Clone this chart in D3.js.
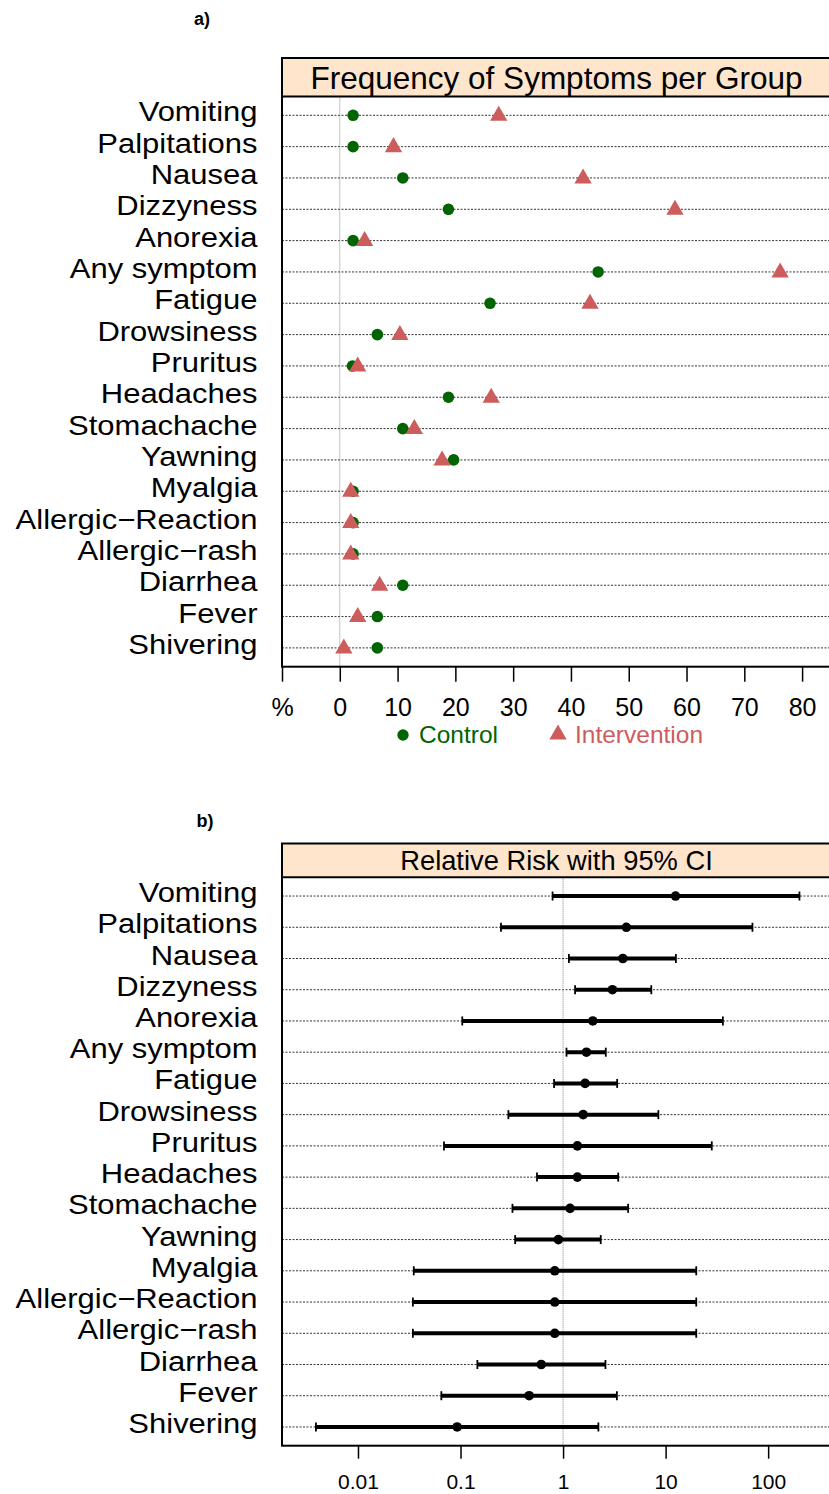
<!DOCTYPE html>
<html>
<head>
<meta charset="utf-8">
<script src="https://cdn.jsdelivr.net/npm/d3@7"></script>
<style>
  body { margin: 0; background: #fff; }
  text { font-family: "Liberation Sans", Arial, Helvetica, sans-serif; }
</style>
</head>
<body>
<svg width="829" height="1494"></svg>
<script>
// symptoms, top to bottom
const symptoms = ['Vomiting', 'Palpitations', 'Nausea', 'Dizzyness', 'Anorexia', 'Any symptom',
  'Fatigue', 'Drowsiness', 'Pruritus', 'Headaches', 'Stomachache', 'Yawning', 'Myalgia',
  'Allergic\u2212Reaction', 'Allergic\u2212rash', 'Diarrhea', 'Fever', 'Shivering'];

// a) frequency in % per group
const controlPct = [2.3, 2.3, 10.9, 18.8, 2.3, 44.7, 26.0, 6.5, 2.2, 18.8, 10.9, 19.7, 2.3, 2.3, 2.3, 10.9, 6.5, 6.5];
const interventionPct = [27.5, 9.3, 42.1, 58.0, 4.3, 76.2, 43.3, 10.4, 3.1, 26.2, 12.9, 17.7, 1.9, 1.9, 1.9, 6.9, 3.1, 0.7];
const pctTicks = [-10, 0, 10, 20, 30, 40, 50, 60, 70, 80];
const pctTickLabels = ['%', '0', '10', '20', '30', '40', '50', '60', '70', '80'];

// b) relative risk with 95% CI
const rr = [12.5, 4.14, 3.83, 3.03, 1.95, 1.69, 1.64, 1.57, 1.38, 1.38, 1.17, 0.90, 0.83, 0.83, 0.83, 0.613, 0.467, 0.0927];
const rrLower = [0.79, 0.248, 1.14, 1.31, 0.104, 1.08, 0.817, 0.293, 0.069, 0.557, 0.321, 0.341, 0.035, 0.0343, 0.0343, 0.146, 0.065, 0.00389];
const rrUpper = [202, 70.3, 12.6, 7.25, 36.2, 2.61, 3.37, 8.5, 28.2, 3.45, 4.31, 2.33, 19.9, 19.9, 19.9, 2.59, 3.35, 2.21];
const rrTicks = [0.01, 0.1, 1, 10, 100];
const rrTickLabels = ['0.01', '0.1', '1', '10', '100'];

const svg = d3.select('svg');
const left = 282, right = 831;
const labelX = 257.5;
const green = '#006400', red = '#cd5c5c';

// strip + rows + labels, returns the point scale
function panel(stripTop, panelTop, panelBottom, title, titleSize, titleBase) {
  svg.append('rect')
    .attr('x', left).attr('y', stripTop)
    .attr('width', right - left).attr('height', panelTop - stripTop)
    .attr('fill', '#ffe5cc');
  svg.append('text')
    .attr('x', (left + right) / 2)
    .attr('y', titleBase)
    .attr('text-anchor', 'middle')
    .attr('font-size', titleSize + 'px')
    .text(title);

  const y = d3.scalePoint()
    .domain(symptoms)
    .range([panelTop, panelBottom])
    .padding(0.6);

  svg.append('g').selectAll('line')
    .data(symptoms)
    .enter().append('line')
    .attr('x1', left).attr('x2', right)
    .attr('y1', d => y(d)).attr('y2', d => y(d))
    .attr('stroke', '#333')
    .attr('stroke-width', 1)
    .attr('stroke-dasharray', '2,1.5');

  // labels are a bit wider than tall in the original, so stretch them sideways
  svg.append('g').selectAll('text')
    .data(symptoms)
    .enter().append('text')
    .attr('transform', d => `translate(${labelX}, ${y(d) + 6}) scale(1.127, 1)`)
    .attr('text-anchor', 'end')
    .attr('font-size', '27.5px')
    .text(d => d);

  return y;
}

function frame(stripTop, panelTop, panelBottom) {
  svg.append('rect')
    .attr('x', left).attr('y', stripTop)
    .attr('width', right - left).attr('height', panelBottom - stripTop)
    .attr('fill', 'none').attr('stroke', '#000').attr('stroke-width', 2);
  svg.append('line')
    .attr('x1', left).attr('x2', right)
    .attr('y1', panelTop).attr('y2', panelTop)
    .attr('stroke', '#000').attr('stroke-width', 2);
}

function styleAxis(g, size) {
  g.select('.domain').remove();
  g.selectAll('.tick line').attr('stroke', '#000').attr('stroke-width', 1.5);
  g.selectAll('.tick text')
    .attr('fill', '#000')
    .attr('font-family', '"Liberation Sans", Arial, sans-serif')
    .attr('font-size', size + 'px');
}

// ---------- a) ----------
const aStrip = 58, aTop = 96.5, aBottom = 666.7;
const yA = panel(aStrip, aTop, aBottom, 'Frequency of Symptoms per Group', 31.5, 89);

const xA = d3.scaleLinear()
  .domain([-10, 85])
  .range([left, right]);

svg.append('line')
  .attr('x1', xA(0)).attr('x2', xA(0))
  .attr('y1', aTop).attr('y2', aBottom)
  .attr('stroke', '#888').attr('stroke-width', 1)
  .attr('stroke-dasharray', '1,1');

svg.append('g').selectAll('circle')
  .data(symptoms)
  .enter().append('circle')
  .attr('cx', (d, i) => xA(controlPct[i]))
  .attr('cy', d => yA(d))
  .attr('r', 5.8)
  .attr('fill', green);

const tri = d3.symbol().type(d3.symbolTriangle).size(130);
svg.append('g').selectAll('path')
  .data(symptoms)
  .enter().append('path')
  .attr('d', tri)
  .attr('transform', (d, i) => `translate(${xA(interventionPct[i])}, ${yA(d) + 0.5})`)
  .attr('fill', red);

frame(aStrip, aTop, aBottom);

const axA = svg.append('g')
  .attr('transform', `translate(0, ${aBottom})`)
  .call(d3.axisBottom(xA)
    .tickValues(pctTicks)
    .tickFormat((d, i) => pctTickLabels[i])
    .tickSize(15)
    .tickPadding(16.5));
styleAxis(axA, 25);

// legend
svg.append('circle').attr('cx', 403).attr('cy', 735).attr('r', 5.7).attr('fill', green);
svg.append('text').attr('x', 419).attr('y', 743).attr('font-size', '24.5px').attr('fill', green).text('Control');
svg.append('path').attr('d', tri).attr('transform', 'translate(558, 734.5)').attr('fill', red);
svg.append('text').attr('x', 575).attr('y', 743).attr('font-size', '24.5px').attr('fill', red).text('Intervention');

svg.append('text')
  .attr('x', 202).attr('y', 25)
  .attr('text-anchor', 'middle')
  .attr('font-size', '18px').attr('font-weight', 'bold')
  .text('a)');

// ---------- b) ----------
const bStrip = 843.5, bTop = 877.3, bBottom = 1445.7;
const yB = panel(bStrip, bTop, bBottom, 'Relative Risk with 95% CI', 27.3, 869.5);

const xB = d3.scaleLog()
  .domain([Math.pow(10, -2.741), Math.pow(10, 2.613)])
  .range([left, right]);

svg.append('line')
  .attr('x1', xB(1)).attr('x2', xB(1))
  .attr('y1', bTop).attr('y2', bBottom)
  .attr('stroke', '#888').attr('stroke-width', 1)
  .attr('stroke-dasharray', '1,1');

const ci = svg.append('g').selectAll('g')
  .data(symptoms)
  .enter().append('g');

ci.append('line')
  .attr('x1', (d, i) => xB(rrLower[i]))
  .attr('x2', (d, i) => xB(rrUpper[i]))
  .attr('y1', d => yB(d)).attr('y2', d => yB(d))
  .attr('stroke', '#000').attr('stroke-width', 4);

ci.append('line')
  .attr('x1', (d, i) => xB(rrLower[i])).attr('x2', (d, i) => xB(rrLower[i]))
  .attr('y1', d => yB(d) - 4.5).attr('y2', d => yB(d) + 4.5)
  .attr('stroke', '#000').attr('stroke-width', 1.8);

ci.append('line')
  .attr('x1', (d, i) => xB(rrUpper[i])).attr('x2', (d, i) => xB(rrUpper[i]))
  .attr('y1', d => yB(d) - 4.5).attr('y2', d => yB(d) + 4.5)
  .attr('stroke', '#000').attr('stroke-width', 1.8);

ci.append('circle')
  .attr('cx', (d, i) => xB(rr[i]))
  .attr('cy', d => yB(d))
  .attr('r', 4.8)
  .attr('fill', '#000');

frame(bStrip, bTop, bBottom);

const axB = svg.append('g')
  .attr('transform', `translate(0, ${bBottom})`)
  .call(d3.axisBottom(xB)
    .tickValues(rrTicks)
    .tickFormat((d, i) => rrTickLabels[i])
    .tickSize(13)
    .tickPadding(15.5));
styleAxis(axB, 21);

svg.append('text')
  .attr('x', 205).attr('y', 827)
  .attr('text-anchor', 'middle')
  .attr('font-size', '18px').attr('font-weight', 'bold')
  .text('b)');
</script>
</body>
</html>
